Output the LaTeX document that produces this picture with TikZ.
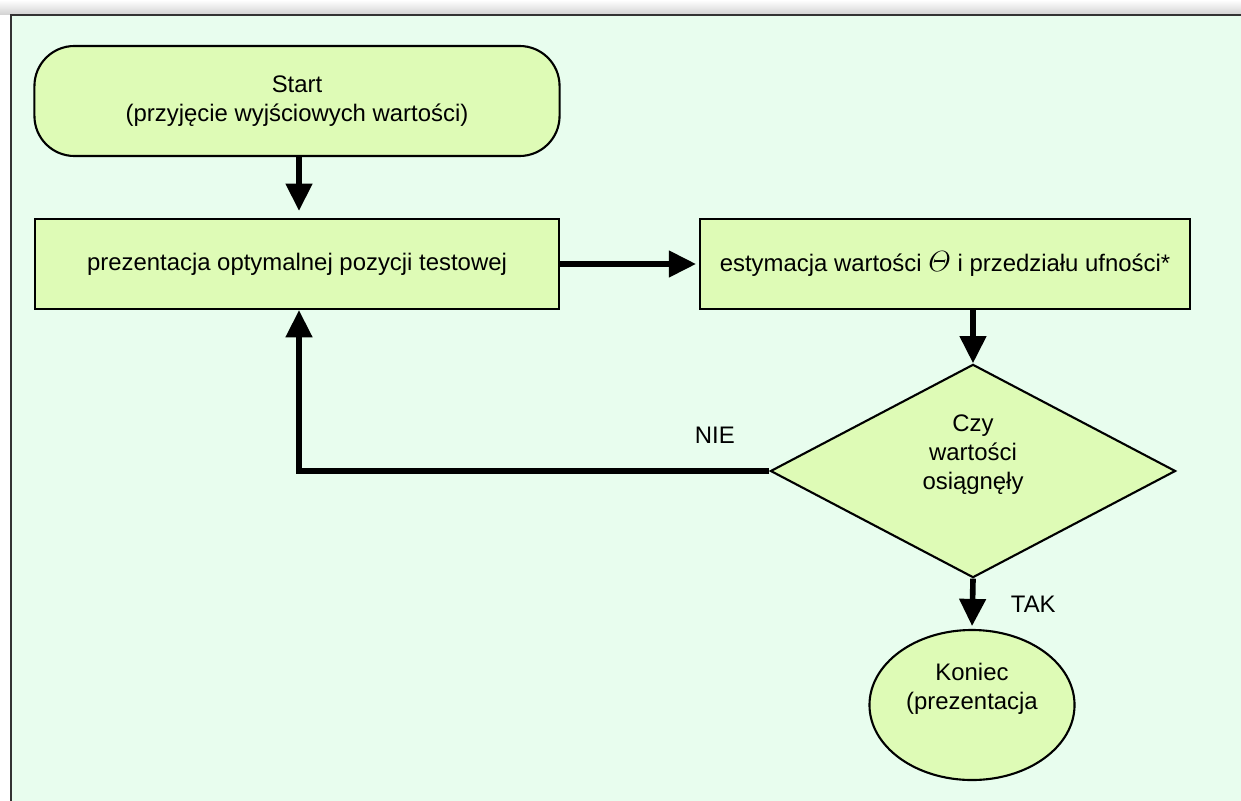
\documentclass[tikz,border=0pt]{standalone}
\usepackage{amsmath}
\usepackage{fontspec}
\setmainfont{Liberation Sans}
\usepackage{xcolor}
\usepackage{tikz}
\usetikzlibrary{positioning,shapes.geometric,arrows.meta}
\definecolor{panelbg}{RGB}{232,253,238}
\definecolor{boxfill}{RGB}{222,251,182}
\tikzset{
  flowbox/.style={draw=black, line width=1.5pt, fill=boxfill,
    align=center, font=\fontsize{17}{20.6}\selectfont, inner sep=0pt},
  startbox/.style={flowbox, rectangle, rounded corners=1cm,
    minimum width=13.125cm, minimum height=2.75cm},
  procbox/.style={flowbox, rectangle, minimum height=2.25cm},
  decision/.style={flowbox, diamond, minimum width=10.125cm, minimum height=5.05cm},
  endbox/.style={flowbox, ellipse, minimum width=5.125cm, minimum height=3.75cm},
  flowarrow/.style={line width=4pt, -{Triangle[length=0.68cm, width=0.64cm]}},
  flowlabel/.style={font=\fontsize{17}{20.6}\selectfont}
}

\begin{document}
\begin{tikzpicture}[x=0.025cm, y=-0.025cm]
\useasboundingbox (0,0) rectangle (1241,801);

% Panel
\shade[top color=white, bottom color=black!18] (0,0) rectangle (1241,15);
\fill[panelbg] (11,15) rectangle (1241,801);
\draw[line width=1.5pt, black!80] (11,801) -- (11,15) -- (1241,15);

% Nodes
\node[startbox] (Start) at (297,101) {Start\\(przyjęcie wyjściowych wartości)};
\node[procbox, minimum width=13.1cm] (Prez) at (297,264)
  {prezentacja optymalnej pozycji testowej};
\node[procbox, minimum width=12.25cm] (Est) at (945,264)
  {estymacja wartości {\fontsize{21}{21}\selectfont$\varTheta$} i przedziału ufności*};
\node[decision] (Check) at (973,471) {Czy\\wartości\\osiągnęły\\\strut};
\node[endbox] (End) at (972,705) {Koniec\\(prezentacja\\\strut};

% Connectors
\draw[flowarrow, shorten >=5pt] (Start.south -| 299,0) -- (Prez.north -| 299,0);
\draw[flowarrow, shorten >=2pt] (Prez.east) -- (Est.west);
\draw[flowarrow] (Est.south -| Check.north) -- (Check.north);
\draw[flowarrow] (Check.west) -| (Prez.south -| 299,0)
  node[flowlabel, pos=0.058, above=14pt] (Nie) {NIE};
\draw[flowarrow, shorten >=2pt] (Check.south) -- (End.north)
  node[flowlabel, midway, right=22pt] (Tak) {TAK};

\end{tikzpicture}
\end{document}
